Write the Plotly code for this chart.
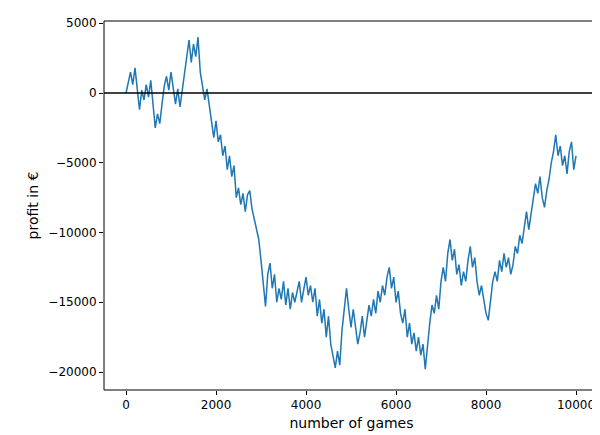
import plotly.graph_objects as go

games = list(range(0, 10001, 50))
profit = [0,800,1500,600,1800,300,-1200,200,-500,600,-300,900,-1000,-2500,-1500,-2200,-800,500,1200,200,
1500,400,-800,300,-1000,200,1500,2500,3800,2200,3500,2600,4000,1500,500,-500,300,-1000,-2000,-3200,
-2000,-3500,-3000,-4500,-3800,-5500,-4500,-6000,-5200,-7500,-6800,-8000,-7200,-8500,-7300,-7000,-8300,-9000,-9800,-10500,
-12000,-13500,-15300,-13000,-12200,-14000,-13000,-15000,-14000,-14800,-13500,-15200,-14000,-15500,-14300,-15000,-14200,-13500,-15000,-14200,
-13200,-14500,-13800,-15000,-14000,-16000,-14800,-16500,-15500,-17500,-16000,-18000,-19000,-19700,-18500,-19500,-17000,-15500,-14000,-15500,
-16800,-15500,-17000,-18000,-17200,-16000,-17500,-16500,-15200,-16000,-14800,-15800,-14200,-15000,-13800,-14500,-13200,-12500,-14000,-13200,
-15000,-14200,-15800,-16500,-15500,-17500,-16500,-18000,-17200,-18500,-17500,-18800,-18000,-19800,-18000,-16500,-15200,-15800,-14500,-15500,
-13500,-12500,-13500,-11500,-10500,-12000,-11200,-13000,-12300,-13800,-12800,-13500,-12000,-11000,-12500,-11800,-13500,-14500,-13800,-15000,
-15800,-16300,-14800,-13500,-12800,-13500,-12000,-12800,-11500,-12500,-11800,-13000,-12300,-11000,-11500,-10200,-10800,-9500,-8500,-9800,
-8800,-7800,-6500,-7200,-6000,-7500,-8200,-7000,-6200,-5000,-4200,-3000,-4500,-3800,-5200,-4500,-5800,-4200,-3500,-5500,-4500]

xticks = [0, 2000, 4000, 6000, 8000, 10000]
yticks = [5000, 0, -5000, -10000, -15000, -20000]

fig = go.Figure()
fig.add_trace(go.Scatter(x=games, y=profit, mode="lines", line=dict(color="#1f77b4", width=1.5)))
fig.add_hline(y=0, line=dict(color="black", width=1.5))
fig.add_shape(type="rect", xref="paper", yref="paper", x0=0, y0=0, x1=1, y1=1,
              line=dict(color="black", width=1))
ax = dict(showgrid=False, zeroline=False, showline=False, automargin=False,
          ticks="outside", ticklen=4, tickcolor="black")
fig.update_layout(
    width=600, height=435, margin=dict(l=96, r=9, t=13, b=53),
    plot_bgcolor="white", paper_bgcolor="white", showlegend=False,
    font=dict(family="DejaVu Sans", size=12, color="black"),
    xaxis=dict(ax, range=[-489, 10511], tickvals=xticks, ticktext=[str(v) for v in xticks],
               title=dict(text="number of games", standoff=6)),
    yaxis=dict(ax, range=[-21290, 5161], tickvals=yticks,
               ticktext=[str(v).replace("-", "−") for v in yticks],
               title=dict(text="profit in €", standoff=6)),
)
fig.write_html("out.html")
